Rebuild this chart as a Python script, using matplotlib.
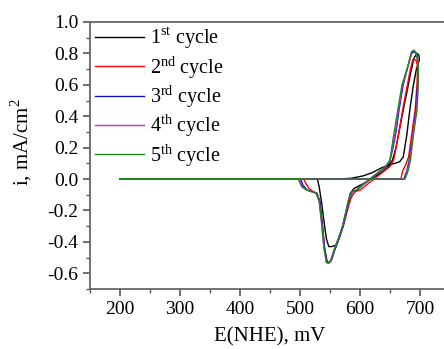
import numpy as np
import matplotlib
matplotlib.use('Agg')
import matplotlib.pyplot as plt
from matplotlib.ticker import MultipleLocator, FormatStrFormatter

# potential (mV) and current density (mA/cm2), one loop per cycle
E1 = [200, 300, 400, 500, 560, 585, 605, 620, 635, 648, 658, 666, 672, 678, 683, 689, 694, 699, 698, 695,
      690, 684, 678, 672, 666, 660, 654, 645, 635, 622, 610, 600, 590, 584, 580, 575, 568, 560, 553, 548,
      544, 540, 536, 532, 529, 450, 350, 200]
I1 = [0, 0, 0, 0, 0, 0.005, 0.02, 0.04, 0.07, 0.09, 0.10, 0.11, 0.14, 0.28, 0.44, 0.60, 0.70, 0.76, 0.79, 0.80,
      0.77, 0.67, 0.55, 0.44, 0.32, 0.20, 0.12, 0.07, 0.04, 0.01, -0.02, -0.04, -0.06, -0.09, -0.15, -0.24, -0.34, -0.42, -0.43, -0.43,
      -0.38, -0.27, -0.15, -0.05, 0, 0, 0, 0]

E2 = [200, 300, 400, 500, 600, 660, 668, 671, 676, 681, 686, 692, 695, 696, 693, 688, 684, 678, 671, 665,
      660, 656, 650, 640, 630, 620, 610, 600, 592, 585, 579, 572, 565, 558, 552, 548, 545, 541, 537, 533,
      528, 522, 515, 510, 506, 400, 300, 200]
I2 = [0, 0, 0, 0, 0, 0, 0, 0.05, 0.09, 0.14, 0.28, 0.44, 0.60, 0.72, 0.76, 0.76, 0.70, 0.58, 0.44, 0.30,
      0.20, 0.12, 0.08, 0.05, 0.02, -0.01, -0.04, -0.07, -0.08, -0.12, -0.20, -0.30, -0.38, -0.45, -0.52, -0.53, -0.52, -0.44, -0.28, -0.14,
      -0.09, -0.08, -0.06, -0.03, 0, 0, 0, 0]

E3 = [200, 300, 400, 500, 600, 660, 673, 678, 682, 688, 693, 696, 697, 694, 690, 686, 680, 672, 665, 660,
      655, 650, 644, 634, 624, 614, 604, 595, 588, 583, 578, 572, 565, 558, 552, 548, 545, 541, 537, 533,
      528, 520, 512, 505, 501, 400, 300, 200]
I3 = [0, 0, 0, 0, 0, 0, 0, 0.05, 0.12, 0.28, 0.44, 0.60, 0.74, 0.80, 0.81, 0.80, 0.72, 0.60, 0.44, 0.30,
      0.20, 0.12, 0.08, 0.05, 0.02, -0.01, -0.04, -0.07, -0.08, -0.12, -0.20, -0.30, -0.38, -0.45, -0.52, -0.535, -0.53, -0.44, -0.28, -0.14,
      -0.09, -0.08, -0.07, -0.04, 0, 0, 0, 0]

E4 = [200, 300, 400, 500, 600, 660, 674, 679, 683, 688, 694, 697, 697, 694, 690, 686, 680, 671, 664, 659,
      654, 650, 643, 633, 623, 613, 603, 594, 587, 582, 577, 571, 564, 557, 551, 547, 544, 540, 536, 532,
      527, 519, 511, 504, 499, 400, 300, 200]
I4 = [0, 0, 0, 0, 0, 0, 0, 0.05, 0.12, 0.28, 0.44, 0.60, 0.74, 0.80, 0.82, 0.81, 0.72, 0.60, 0.44, 0.30,
      0.20, 0.12, 0.08, 0.05, 0.02, -0.01, -0.04, -0.07, -0.08, -0.12, -0.20, -0.30, -0.38, -0.45, -0.52, -0.535, -0.53, -0.44, -0.28, -0.14,
      -0.09, -0.08, -0.07, -0.05, 0, 0, 0, 0]

E5 = [200, 300, 400, 500, 600, 660, 675, 680, 684, 689, 695, 697, 697, 694, 690, 686, 680, 670, 663, 657,
      653, 650, 643, 633, 623, 613, 603, 594, 587, 582, 577, 571, 564, 557, 551, 547, 544, 540, 536, 532,
      527, 519, 511, 503, 497, 400, 300, 200]
I5 = [0, 0, 0, 0, 0, 0, 0, 0.05, 0.12, 0.28, 0.44, 0.60, 0.74, 0.80, 0.82, 0.81, 0.72, 0.60, 0.44, 0.30,
      0.20, 0.12, 0.08, 0.05, 0.02, -0.01, -0.04, -0.07, -0.08, -0.12, -0.20, -0.30, -0.38, -0.45, -0.52, -0.535, -0.53, -0.44, -0.28, -0.14,
      -0.09, -0.08, -0.07, -0.05, 0, 0, 0, 0]

labels = ['1$^{\\mathregular{st}}$ cycle', '2$^{\\mathregular{nd}}$ cycle', '3$^{\\mathregular{rd}}$ cycle',
          '4$^{\\mathregular{th}}$ cycle', '5$^{\\mathregular{th}}$ cycle']
colors = ['black', 'red', '#1010c0', '#e020e0', '#1a8a1a']

plt.rcParams['font.family'] = ['Liberation Serif', 'DejaVu Serif']
plt.rcParams['mathtext.fontset'] = 'custom'
plt.rcParams['mathtext.rm'] = 'Liberation Serif'
plt.rcParams['axes.unicode_minus'] = False

fig = plt.figure(figsize=(4.44, 3.49), dpi=100)
ax = fig.add_axes([90/444, 60/349, 360/444, 267/349])

for E, I, c, lab in zip([E1, E2, E3, E4, E5], [I1, I2, I3, I4, I5], colors, labels):
    ax.plot(E, I, color=c, lw=1.0, label=lab)

ax.set_xlim(150, 750)
ax.set_ylim(-0.7, 1.0)
ax.xaxis.set_major_locator(MultipleLocator(100))
ax.xaxis.set_minor_locator(MultipleLocator(50))
ax.yaxis.set_major_locator(MultipleLocator(0.2))
ax.yaxis.set_minor_locator(MultipleLocator(0.1))
ax.yaxis.set_major_formatter(FormatStrFormatter('%.1f'))
ax.tick_params(which='major', direction='out', length=5, width=1.2, labelsize=14, color='#555555')
ax.tick_params(which='minor', direction='out', length=3, width=1.0, color='#555555')
for s in ['left', 'bottom', 'top']:
    ax.spines[s].set_color('#666666')
    ax.spines[s].set_linewidth(1.3)
ax.spines['right'].set_visible(False)

ax.set_xlabel('E(NHE), mV', fontsize=15)
ax.set_ylabel('i, mA/cm$^\\mathregular{2}$', fontsize=15)
ax.xaxis.set_label_coords(0.5, -0.145)
ax.yaxis.set_label_coords(-0.155, 0.55)

ax.legend(loc='upper left', bbox_to_anchor=(0.015, 0.985), frameon=False, fontsize=14.5,
          handlelength=2.4, handletextpad=0.3, labelspacing=0.12, borderaxespad=0, borderpad=0)

fig.savefig('out.png', dpi=100)
